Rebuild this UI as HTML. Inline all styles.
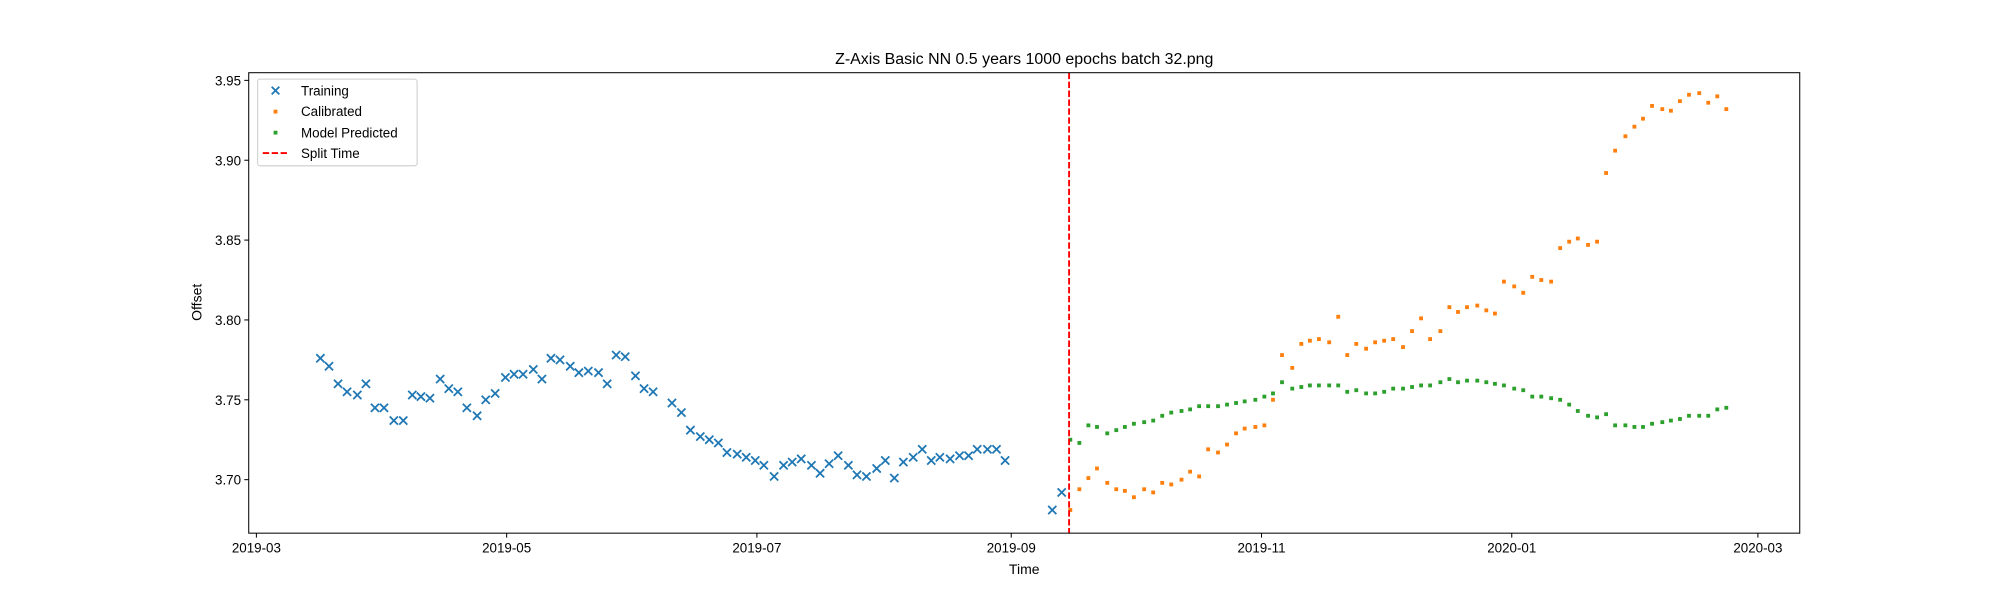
<!DOCTYPE html>
<html><head><meta charset="utf-8"><style>html,body{margin:0;padding:0;background:#fff}svg{display:block}text{font-family:"Liberation Sans","DejaVu Sans",sans-serif;fill:#000}</style></head>
<body>
<svg id="chart" width="2000" height="600" viewBox="0 0 1568 470.4" xmlns="http://www.w3.org/2000/svg">
<text x="803" y="50" font-size="12.5" text-anchor="middle">Z-Axis Basic NN 0.5 years 1000 epochs batch 32.png</text>
<text x="803" y="450" font-size="11" text-anchor="middle">Time</text>
<text transform="translate(158,237) rotate(-90)" font-size="11" text-anchor="middle">Offset</text>
<g id="plot"></g>
<rect x="195" y="57" width="1216" height="361" fill="none" stroke="#000" stroke-width="0.8"/>
<g>
<rect x="202" y="62" width="125" height="68" rx="2" fill="#fff" fill-opacity="0.8" stroke="#ccc" stroke-width="0.8"/>
<g><path d="M213,68 l6,6 M219,68 l-6,6" stroke="#1f77b4" stroke-width="1.4"/><text x="236" y="75" font-size="10.5">Training</text></g>
<g><rect x="214.5" y="86" width="3" height="3" fill="#ff7f0e"/><text x="236" y="91" font-size="10.5">Calibrated</text></g>
<g><rect x="214.5" y="102.5" width="3" height="3" fill="#2ca02c"/><text x="236" y="108" font-size="10.5">Model Predicted</text></g>
<g><path d="M206,120 h20" stroke="#ff0000" stroke-width="1.5" stroke-dasharray="5,2"/><text x="236" y="124" font-size="10.5">Split Time</text></g>
</g>
</svg>
<script>
// days since 2019-03-01
const trainDays=[15.6,17.7,19.9,22.1,24.6,26.7,28.9,31.1,33.5,35.8,38.0,40.1,42.3,44.8,46.9,49.1,51.3,53.8,55.9,58.2,60.7,62.8,65.0,67.5,69.6,71.8,74.0,76.5,78.6,80.9,83.4,85.5,87.7,89.9,92.4,94.5,96.7,101.3,103.6,105.8,108.2,110.4,112.6,114.7,117.2,119.4,121.6,123.7,126.2,128.5,130.6,132.8,135.3,137.4,139.6,141.8,144.3,146.4,148.7,151.2,153.3,155.5,157.7,160.1,162.3,164.5,166.6,169.1,171.4,173.6,175.7,178.2,180.4,182.5,194.0,196.3];
const trainVals=[3.776,3.771,3.760,3.755,3.753,3.760,3.745,3.745,3.737,3.737,3.753,3.752,3.751,3.763,3.757,3.755,3.745,3.740,3.750,3.754,3.764,3.766,3.766,3.769,3.763,3.776,3.775,3.771,3.767,3.768,3.767,3.760,3.778,3.777,3.765,3.757,3.755,3.748,3.742,3.731,3.727,3.725,3.723,3.717,3.716,3.714,3.712,3.709,3.702,3.709,3.711,3.713,3.709,3.704,3.710,3.715,3.709,3.703,3.702,3.707,3.712,3.701,3.711,3.714,3.719,3.712,3.714,3.713,3.715,3.715,3.719,3.719,3.719,3.712,3.681,3.692];
const testDays=[198.4,200.6,202.8,204.9,207.4,209.6,211.7,213.9,216.4,218.6,220.8,223.0,225.5,227.6,229.8,232.0,234.4,236.6,238.8,240.9,243.5,245.7,247.8,250.0,252.5,254.7,256.8,259.0,261.5,263.7,265.9,268.1,270.5,272.7,274.9,277.1,279.5,281.7,283.9,286.1,288.6,290.8,292.9,295.1,297.6,299.8,301.9,304.1,306.6,308.8,311.0,313.2,315.6,317.8,320.0,322.1,324.6,326.8,329.0,331.2,333.7,335.9,338.0,340.2,342.7,344.8,347.0,349.2,351.7,353.9,356.1,358.3];
const calibVals=[3.681,3.694,3.701,3.707,3.698,3.694,3.693,3.689,3.694,3.692,3.698,3.697,3.700,3.705,3.702,3.719,3.717,3.722,3.729,3.732,3.733,3.734,3.750,3.778,3.770,3.785,3.787,3.788,3.786,3.802,3.778,3.785,3.782,3.786,3.787,3.788,3.783,3.793,3.801,3.788,3.793,3.808,3.805,3.808,3.809,3.806,3.804,3.824,3.821,3.817,3.827,3.825,3.824,3.845,3.849,3.851,3.847,3.849,3.892,3.906,3.915,3.921,3.926,3.934,3.932,3.931,3.937,3.941,3.942,3.936,3.940,3.932];
const predVals=[3.725,3.723,3.734,3.733,3.729,3.731,3.733,3.735,3.736,3.737,3.740,3.742,3.743,3.744,3.746,3.746,3.746,3.747,3.748,3.749,3.750,3.752,3.754,3.761,3.757,3.758,3.759,3.759,3.759,3.759,3.755,3.756,3.754,3.754,3.755,3.757,3.757,3.758,3.759,3.759,3.761,3.763,3.761,3.762,3.762,3.761,3.760,3.759,3.757,3.756,3.752,3.752,3.751,3.750,3.747,3.743,3.740,3.739,3.741,3.734,3.734,3.733,3.733,3.735,3.736,3.737,3.738,3.740,3.740,3.740,3.744,3.745];
const splitDay=198.1;
const xTickDays=[0,61,122,184,245,306,366];
const xTickLabels=["2019-03","2019-05","2019-07","2019-09","2019-11","2020-01","2020-03"];
const yTicks=[3.70,3.75,3.80,3.85,3.90,3.95];

const NS="http://www.w3.org/2000/svg";
const L=195,R=1411,T=57,B=418;
const X0=-1.87,X1=376.2,Y0=3.6665,Y1=3.9548;
function sx(d){return L+(d-X0)/(X1-X0)*(R-L);}
function sy(v){return B-(v-Y0)/(Y1-Y0)*(B-T);}
const plot=document.getElementById('plot');
function mk(tag,attrs,parent){const e=document.createElementNS(NS,tag);for(const k in attrs)e.setAttribute(k,attrs[k]);(parent||plot).appendChild(e);return e;}

xTickDays.forEach((d,i)=>{
  const g=mk('g',{});
  
  
  mk('line',{x1:sx(d),x2:sx(d),y1:B,y2:B+3.5,stroke:'#000','stroke-width':0.8},g);
  const t=mk('text',{x:sx(d),y:B+15,'font-size':10.5,'text-anchor':'middle'},g);
  t.textContent=xTickLabels[i];
});
yTicks.forEach(v=>{
  const g=mk('g',{});
  
  
  mk('line',{x1:L-3.5,x2:L,y1:sy(v),y2:sy(v),stroke:'#000','stroke-width':0.8},g);
  const t=mk('text',{x:L-6,y:sy(v)+4,'font-size':10.5,'text-anchor':'end'},g);
  t.textContent=v.toFixed(2);
});
const gt=mk('g',{});


trainDays.forEach((d,i)=>{
  const x=sx(d),y=sy(trainVals[i]);
  const p=mk('path',{d:`M${x-3.2},${y-3.2}L${x+3.2},${y+3.2}M${x+3.2},${y-3.2}L${x-3.2},${y+3.2}`,stroke:'#1f77b4','stroke-width':1.4},gt);
  
  
});
const gc=mk('g',{});


testDays.forEach((d,i)=>{
  const r=mk('rect',{x:sx(d)-1.5,y:sy(calibVals[i])-1.5,width:3,height:3,fill:'#ff7f0e'},gc);
  
  
});
const gp=mk('g',{});


testDays.forEach((d,i)=>{
  const r=mk('rect',{x:sx(d)-1.5,y:sy(predVals[i])-1.5,width:3,height:3,fill:'#2ca02c'},gp);
  
  
});
const sl=mk('line',{x1:sx(splitDay),x2:sx(splitDay),y1:T,y2:B,stroke:'#ff0000','stroke-width':1.5,'stroke-dasharray':'5,2'});


</script>
</body></html>
